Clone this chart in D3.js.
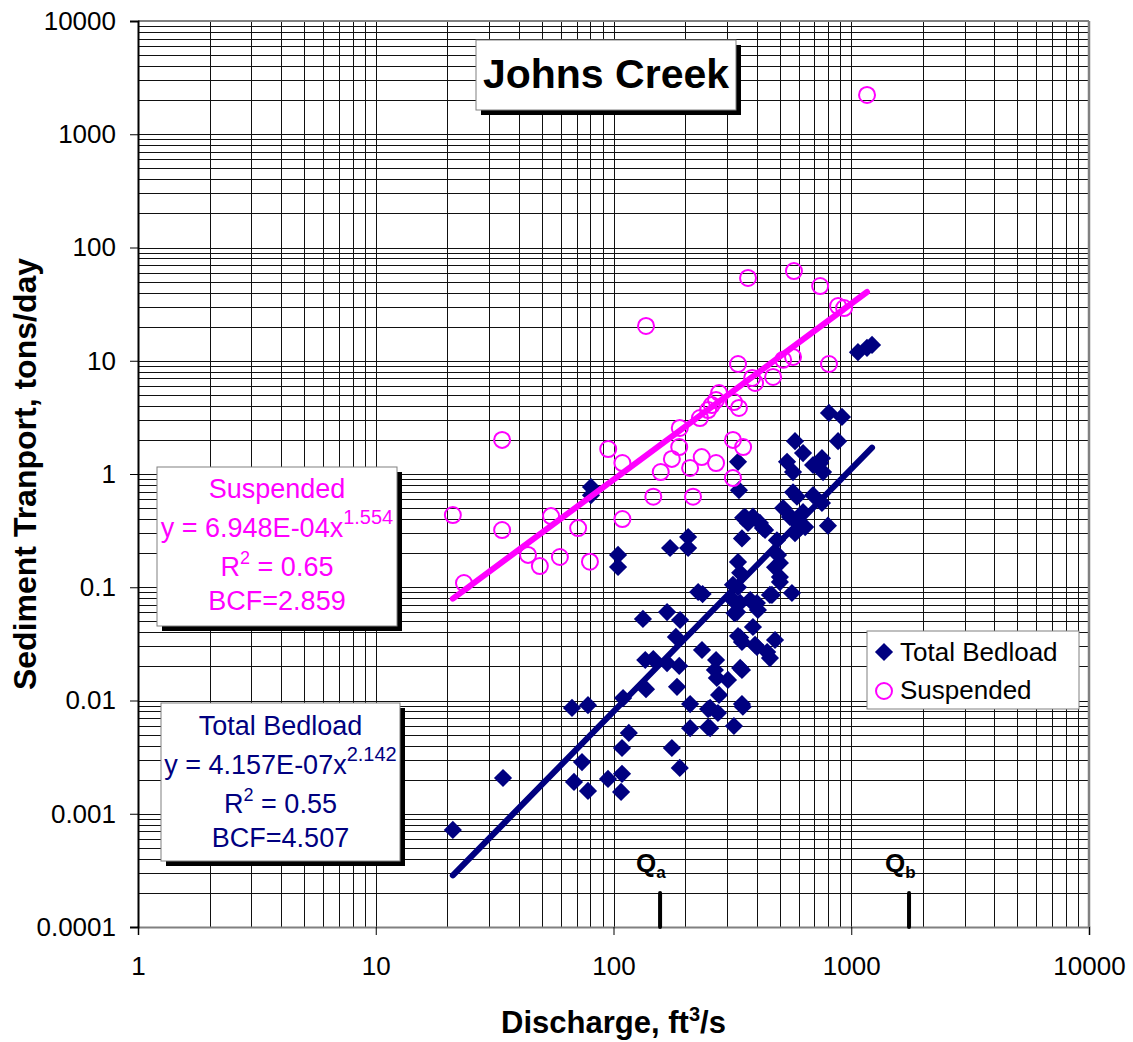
<!DOCTYPE html>
<html>
<head>
<meta charset="utf-8">
<script src="https://cdn.jsdelivr.net/npm/d3@7"></script>
<style>
  body { margin: 0; background: #fff; }
  text { font-family: Arial, "Liberation Sans", sans-serif; }
</style>
</head>
<body>
<div id="chart"></div>
<script>
// values (discharge ft3/s, load tons/day)
const bedloadQ = [21.1, 34.3, 66.9, 78.1, 73.7, 68.2, 78.1, 94.8, 108.6, 107.6, 108.6, 116, 109.7, 80.4, 80.4, 104.5, 104.5,
  133, 168, 190.5, 183, 136, 147, 168, 189, 137, 185, 235.6, 210, 210, 176, 190, 250, 250, 227, 237, 270, 267, 272, 303,
  341, 278, 347, 350, 255, 275, 321, 255, 334, 347, 386, 401, 443, 455, 478, 347, 331, 318, 334, 401, 455, 563, 501,
  334, 337, 537, 569, 627, 691, 753, 761, 740, 580, 880, 569, 591, 691, 753, 517, 563, 627, 552, 613, 580, 640, 798,
  351, 386, 358, 413, 434, 425, 487, 347, 368, 206, 173, 206, 334, 341, 318, 492, 501, 501, 478, 464, 394, 405, 376,
  341, 323, 341, 394, 806, 914, 1067, 1165, 1223];
const bedloadLoad = [0.00072, 0.00207, 0.0086, 0.0091, 0.00286, 0.00191, 0.00159, 0.00203, 0.00225, 0.00156, 0.00381, 0.00517, 0.0105, 0.767, 0.65, 0.193, 0.151,
  0.0525, 0.0604, 0.0514, 0.0364, 0.0228, 0.0232, 0.0214, 0.0202, 0.0126, 0.0132, 0.0279, 0.0093, 0.0057, 0.00381, 0.00254, 0.0084, 0.0058, 0.0908, 0.087, 0.0228, 0.0186, 0.0158, 0.0152,
  0.0194, 0.0112, 0.0093, 0.0088, 0.0086, 0.00776, 0.00595, 0.0057, 0.0371, 0.0329, 0.0446, 0.0297, 0.0268, 0.0237, 0.0342, 0.0186, 0.0604, 0.077, 0.100, 0.0726, 0.0855, 0.089, 0.111,
  1.28, 0.72, 1.28, 1.04, 1.53, 1.2, 1.38, 1.04, 1.25, 1.95, 1.95, 0.69, 0.63, 0.65, 0.555, 0.50, 0.41, 0.46, 0.417, 0.34, 0.30, 0.34, 0.35,
  0.41, 0.42, 0.417, 0.37, 0.32, 0.334, 0.26, 0.27, 0.37, 0.278, 0.222, 0.222, 0.167, 0.134, 0.105, 0.193, 0.164, 0.123, 0.15, 0.0855, 0.0697, 0.063, 0.077,
  0.073, 0.059, 0.036, 0.031, 3.46, 3.19, 11.9, 13.0, 13.8];

const suspQ = [21.1, 23.5, 34, 34, 43.7, 49, 54.6, 59.5, 71, 79.6, 95, 109, 109, 137, 147, 158, 176, 189, 190, 210, 216,
  231, 235, 250, 259, 270, 270, 278, 318, 318, 321, 334, 337, 351, 368, 383, 394, 469, 517, 569, 574, 740, 806, 880, 933, 1165];
const suspLoad = [0.434, 0.109, 2.0, 0.32, 0.193, 0.154, 0.425, 0.185, 0.333, 0.168, 1.66, 1.25, 0.40, 20.3, 0.63, 1.04, 1.36, 1.73, 2.55, 1.13, 0.63,
  3.12, 1.41, 3.67, 4.06, 4.5, 1.25, 5.19, 2.0, 0.92, 4.32, 9.36, 3.83, 1.73, 53.8, 7.05, 6.37, 7.19, 10.2, 10.8, 62, 45.7, 9.36, 30.4, 29.2, 2222];

// power-law fits shown in the boxes
const fitNames = ["Suspended", "Total Bedload"];
const fitCoefText = ["6.948E-04", "4.157E-07"];
const fitExp = [1.554, 2.142];
const fitR2 = ["0.65", "0.55"];
const fitBCF = ["2.859", "4.507"];

// Qa / Qb marks on the discharge axis
const qNames = ["a", "b"];
const qValues = [157, 1750];

const xTickLabels = ["1", "10", "100", "1000", "10000"];
const yTickLabels = ["0.0001", "0.001", "0.01", "0.1", "1", "10", "100", "1000", "10000"];

const pink = "#FF00FF";
const navy = "#000080";

const width = 1133, height = 1042;
const margin = { top: 21, right: 44, bottom: 115, left: 138 };
const w = width - margin.left - margin.right;
const h = height - margin.top - margin.bottom;

const svg = d3.select("#chart").append("svg")
  .attr("width", width)
  .attr("height", height);

const g = svg.append("g")
  .attr("transform", `translate(${margin.left},${margin.top})`);

const x = d3.scaleLog().domain([1, 10000]).range([0, w]);
const y = d3.scaleLog().domain([0.0001, 10000]).range([h, 0]);

// grid
g.append("g").selectAll("line")
  .data(x.ticks())
  .join("line")
  .attr("x1", d => Math.round(x(d)) + 0.5).attr("x2", d => Math.round(x(d)) + 0.5)
  .attr("y1", 0).attr("y2", h)
  .attr("stroke", "#111").attr("stroke-width", 1);

g.append("g").selectAll("line")
  .data(y.ticks())
  .join("line")
  .attr("y1", d => Math.round(y(d)) + 0.5).attr("y2", d => Math.round(y(d)) + 0.5)
  .attr("x1", 0).attr("x2", w)
  .attr("stroke", "#111").attr("stroke-width", 1);

// frame: top and right grey
g.append("line").attr("x1", 0).attr("x2", w).attr("y1", 0).attr("y2", 0)
  .attr("stroke", "#808080").attr("stroke-width", 2);
g.append("line").attr("x1", w).attr("x2", w).attr("y1", 0).attr("y2", h)
  .attr("stroke", "#808080").attr("stroke-width", 2.5);

// axes
const xAxis = d3.axisBottom(x)
  .tickValues(xTickLabels.map(Number))
  .tickFormat((d, i) => xTickLabels[i])
  .tickSize(8)
  .tickPadding(22);
const gx = g.append("g")
  .attr("transform", `translate(0,${h})`)
  .call(xAxis);
gx.select(".domain").attr("stroke", "#808080").attr("stroke-width", 2);
gx.selectAll(".tick line").attr("stroke", "#000").attr("stroke-width", 1);
gx.selectAll("text").attr("font-size", 26).attr("font-family", "Arial, 'Liberation Sans', sans-serif").attr("fill", "#000");

const yAxis = d3.axisLeft(y)
  .tickValues(yTickLabels.map(Number))
  .tickFormat((d, i) => yTickLabels[i])
  .tickSize(8)
  .tickPadding(14);
const gy = g.append("g").call(yAxis);
gy.select(".domain").attr("stroke", "#000").attr("stroke-width", 2);
gy.selectAll(".tick line").attr("stroke", "#000").attr("stroke-width", 1);
gy.selectAll("text").attr("font-size", 26).attr("font-family", "Arial, 'Liberation Sans', sans-serif").attr("fill", "#000");

// axis titles
const xTitle = svg.append("text")
  .attr("x", margin.left + x(100))
  .attr("y", 1033)
  .attr("text-anchor", "middle")
  .attr("font-size", 31)
  .attr("font-weight", "bold");
xTitle.append("tspan").text("Discharge, ft");
xTitle.append("tspan").attr("dy", -12).attr("font-size", 20).text("3");
xTitle.append("tspan").attr("dy", 12).text("/s");

svg.append("text")
  .attr("transform", `translate(36,${margin.top + h / 2}) rotate(-90)`)
  .attr("text-anchor", "middle")
  .attr("font-size", 32)
  .attr("font-weight", "bold")
  .text("Sediment Tranport, tons/day");

// Qa / Qb marks
const qg = g.append("g");
qg.selectAll("line")
  .data(qValues)
  .join("line")
  .attr("x1", d => x(d)).attr("x2", d => x(d))
  .attr("y1", h - 34).attr("y2", h)
  .attr("stroke", "#000").attr("stroke-width", 4).attr("stroke-linecap", "round");
const qLabels = qg.selectAll("text")
  .data(qValues)
  .join("text")
  .attr("x", d => x(d) - 24)
  .attr("y", h - 55)
  .attr("font-size", 26)
  .attr("font-weight", "bold");
qLabels.append("tspan").text("Q");
qLabels.append("tspan").attr("dy", 6).attr("font-size", 17).text((d, i) => qNames[i]);

// bedload diamonds
const diamond = d3.symbol().type(d3.symbolSquare).size(165);
g.append("g").selectAll("path")
  .data(d3.zip(bedloadQ, bedloadLoad))
  .join("path")
  .attr("d", diamond)
  .attr("transform", d => `translate(${x(d[0])},${y(d[1])}) rotate(45)`)
  .attr("fill", navy);

// suspended circles
g.append("g").selectAll("circle")
  .data(d3.zip(suspQ, suspLoad))
  .join("circle")
  .attr("cx", d => x(d[0]))
  .attr("cy", d => y(d[1]))
  .attr("r", 8)
  .attr("fill", "none")
  .attr("stroke", pink)
  .attr("stroke-width", 2);

// power trend lines
const coef = fitCoefText.map(Number);
const trend = (k, qs) => {
  const lo = d3.min(qs), hi = d3.max(qs);
  return [lo, hi].map(q => [q, coef[k] * Math.pow(q, fitExp[k])]);
};
const line = d3.line().x(d => x(d[0])).y(d => y(d[1]));
g.append("path")
  .datum(trend(1, bedloadQ))
  .attr("d", line)
  .attr("fill", "none").attr("stroke", navy).attr("stroke-width", 6).attr("stroke-linecap", "round");
g.append("path")
  .datum(trend(0, suspQ))
  .attr("d", line)
  .attr("fill", "none").attr("stroke", pink).attr("stroke-width", 6).attr("stroke-linecap", "round");

// boxes with drop shadow
const shadowBox = (bx, by, bw, bh, off) => {
  svg.append("rect").attr("x", bx + off).attr("y", by + off).attr("width", bw).attr("height", bh).attr("fill", "#000");
  svg.append("rect").attr("x", bx).attr("y", by).attr("width", bw).attr("height", bh)
    .attr("fill", "#fff").attr("stroke", "#808080").attr("stroke-width", 1);
};

// title
shadowBox(476, 40, 260, 70, 5);
svg.append("text")
  .attr("x", 606).attr("y", 88)
  .attr("text-anchor", "middle")
  .attr("font-size", 41)
  .attr("font-weight", "bold")
  .text("Johns Creek");

// equation boxes
const eqBoxes = [
  { bx: 157, by: 467, bw: 240, bh: 159, base: 498, color: pink },
  { bx: 161, by: 703, bw: 239, bh: 158, base: 735, color: navy }
];
eqBoxes.forEach((b, k) => {
  shadowBox(b.bx, b.by, b.bw, b.bh, 5);
  const cx = b.bx + b.bw / 2;
  const t = svg.append("g").attr("fill", b.color).attr("font-size", 27).attr("text-anchor", "middle");
  t.append("text").attr("x", cx).attr("y", b.base).text(fitNames[k]);
  const eq = t.append("text").attr("x", cx).attr("y", b.base + 39);
  eq.append("tspan").text(`y = ${fitCoefText[k]}x`);
  eq.append("tspan").attr("dy", -13).attr("font-size", 20).text(fitExp[k].toFixed(3));
  const r2 = t.append("text").attr("x", cx).attr("y", b.base + 78);
  r2.append("tspan").text("R");
  r2.append("tspan").attr("dy", -12).attr("font-size", 18).text("2");
  r2.append("tspan").attr("dy", 12).text(` = ${fitR2[k]}`);
  t.append("text").attr("x", cx).attr("y", b.base + 112).text(`BCF=${fitBCF[k]}`);
});

// legend
const leg = svg.append("g").attr("transform", "translate(867,631)");
leg.append("rect").attr("width", 212).attr("height", 78)
  .attr("fill", "#fff").attr("stroke", "#808080").attr("stroke-width", 1);
leg.append("path").attr("d", diamond).attr("transform", "translate(17,21) rotate(45)").attr("fill", navy);
leg.append("circle").attr("cx", 17).attr("cy", 60).attr("r", 8)
  .attr("fill", "none").attr("stroke", pink).attr("stroke-width", 2);
leg.append("text").attr("x", 33).attr("y", 30).attr("font-size", 26).text(fitNames[1]);
leg.append("text").attr("x", 33).attr("y", 68).attr("font-size", 26).text(fitNames[0]);
</script>
</body>
</html>
